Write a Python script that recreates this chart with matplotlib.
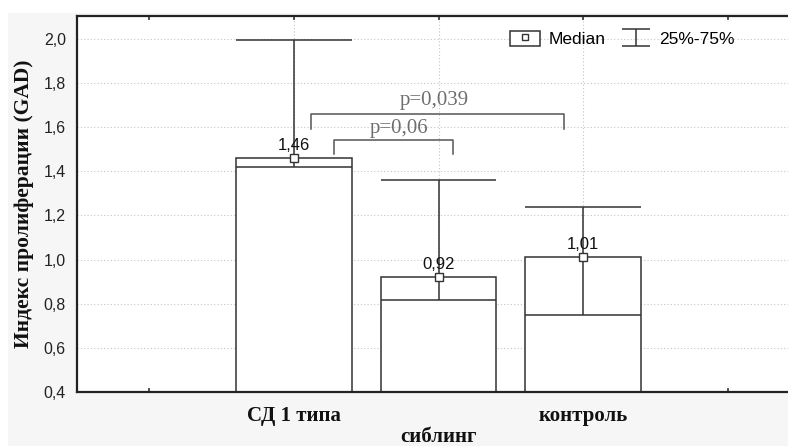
import numpy as np
import matplotlib
matplotlib.use("Agg")
import matplotlib.pyplot as plt
from matplotlib.patches import Rectangle
from matplotlib.lines import Line2D
from matplotlib.legend_handler import HandlerTuple
from matplotlib.ticker import FuncFormatter

GROUPS = ["СД 1 типа", "сиблинг", "контроль"]
MEDIANS = [1.46, 0.92, 1.01]
Q25 = [1.42, 0.815, 0.75]
Q75 = [1.995, 1.36, 1.24]
P_LABELS = ["p=0,039", "p=0,06"]

EDGE = "#333333"
BASE = 0.4

plt.rcParams["font.family"] = ["Liberation Sans", "DejaVu Sans"]

fig = plt.figure(figsize=(7.88, 4.46), dpi=100, facecolor="white")
# light grey panel behind the plot, like the scanned original
fig.add_artist(Rectangle((8 / 788, 0), 1, 1 - 13 / 446, transform=fig.transFigure,
                         fc="#f6f6f6", ec="none", zorder=-10))
ax = fig.add_axes([77 / 788, 54 / 446, 723 / 788, 376 / 446])
ax.set_zorder(1)
ax.set_facecolor("white")

x = np.arange(1, len(GROUPS) + 1)
med = np.array(MEDIANS)
lo = np.array(Q25)
hi = np.array(Q75)
w = 0.8

ax.bar(x, med - BASE, bottom=BASE, width=w, fc="white", ec=EDGE, lw=1.1, zorder=2)
ax.vlines(x, lo, hi, color=EDGE, lw=1.1, zorder=3)
ax.hlines(lo, x - w / 2, x + w / 2, color=EDGE, lw=1.1, zorder=3)
ax.hlines(hi, x - w / 2, x + w / 2, color=EDGE, lw=1.1, zorder=3)
ax.plot(x, med, ls="none", marker="s", ms=6, mfc="white", mec=EDGE, mew=1.0, zorder=4)

for xi, m in zip(x, med):
    ax.annotate(f"{m:.2f}".replace(".", ","), (xi, m), xytext=(0, 4),
                textcoords="offset points", ha="center", va="bottom",
                fontsize=12, color="#111111", zorder=5)

# significance brackets
brackets = [
    (1.12, 2.87, 1.662, 1.592, 1.97, 1.70),
    (1.275, 2.10, 1.544, 1.478, 1.73, 1.574),
]
for (x0, x1, ytop, yleg, tx, ty), lab in zip(brackets, P_LABELS):
    ax.plot([x0, x0, x1, x1], [yleg, ytop, ytop, yleg], color="#555555", lw=1.1, zorder=3)
    ax.text(tx, ty, lab, ha="center", va="baseline", fontsize=15,
            family="Liberation Serif", color="#6e6e6e", zorder=5)

ax.set_xlim(-0.5, 4.5)
ax.set_ylim(BASE, 2.104)
ax.set_yticks(np.arange(0.4, 2.01, 0.2))
ax.yaxis.set_major_formatter(FuncFormatter(lambda v, p: f"{v:.1f}".replace(".", ",")))
ax.set_xticks(range(0, 5))
ax.set_xticklabels(["", GROUPS[0], "\n" + GROUPS[1], GROUPS[2], ""],
                   family="Liberation Serif", fontweight="bold", fontsize=15)
for t in ax.get_xticklabels():
    t.set_linespacing(1.05)
ax.tick_params(axis="x", direction="in", length=3, width=1.2, top=True, pad=10,
               colors=EDGE, labelcolor="#111111")
ax.tick_params(axis="y", length=0, pad=8, labelsize=11.5, labelcolor="#222222")

for yv in np.arange(0.6, 2.01, 0.2):
    ax.axhline(yv, color="#c4c4c4", lw=0.8, ls=(0, (1, 2)), zorder=1)
for xi in x:
    ax.axvline(xi, color="#c4c4c4", lw=0.8, ls=(0, (1, 2)), zorder=1)

for s in ["left", "bottom", "top"]:
    ax.spines[s].set_linewidth(1.6)
    ax.spines[s].set_color("#222222")
ax.spines["right"].set_visible(False)

ax.set_ylabel("Индекс пролиферации (GAD)", family="Liberation Serif",
              fontweight="bold", fontsize=15.5, labelpad=7, color="#111111")

# legend
box = Rectangle((0, 0), 1, 1, fc="white", ec=EDGE, lw=1.1)
sq = Line2D([], [], ls="none", marker="s", ms=5, mfc="white", mec=EDGE, mew=1.0)
err = ax.errorbar([np.nan], [np.nan], yerr=[[0.1], [0.1]], fmt="none",
                  ecolor=EDGE, elinewidth=1.1, capsize=10, capthick=1.1)
ax.legend([(box, sq), err], ["Median", "25%-75%"], handler_map={tuple: HandlerTuple(ndivide=1)},
          loc="center right", bbox_to_anchor=((735 - 77) / 723, 0.939), ncol=2,
          frameon=False, fontsize=12.5, borderpad=0, borderaxespad=0,
          handlelength=1.7, handleheight=1.0, handletextpad=0.5, columnspacing=0.9)

fig.savefig("out.png", dpi=100, facecolor=fig.get_facecolor())
